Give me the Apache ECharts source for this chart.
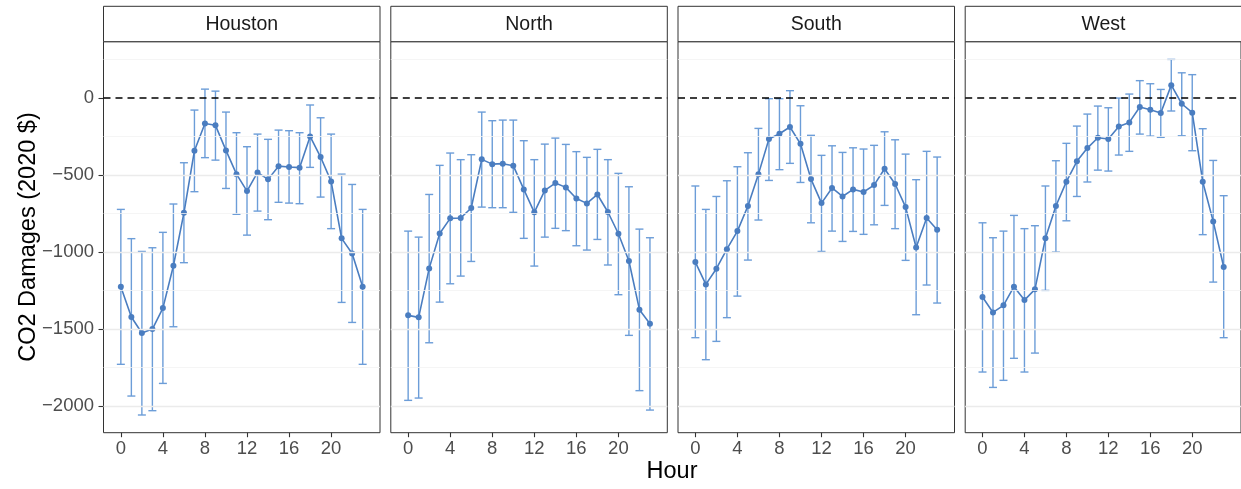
<!DOCTYPE html>
<html>
<head>
<meta charset="utf-8">
<script src="https://cdn.jsdelivr.net/npm/echarts@6/dist/echarts.min.js"></script>
<style>
html,body{margin:0;padding:0;background:#fff;}
#chart{width:1241px;height:489px;}
</style>
</head>
<body>
<div id="chart"></div>
<script>
// ---------------- DATA ----------------
const hours = [0,1,2,3,4,5,6,7,8,9,10,11,12,13,14,15,16,17,18,19,20,21,22,23];
const regions = ['Houston','North','South','West'];

const houstonMean  = [-1225,-1422,-1526,-1500,-1364,-1089,-745,-342,-165,-177,-340,-494,-604,-483,-528,-442,-448,-452,-249,-383,-541,-911,-1009,-1225];
const houstonLower = [-1729,-1935,-2058,-2030,-1853,-1485,-1069,-608,-387,-403,-587,-755,-890,-734,-790,-677,-682,-686,-450,-643,-848,-1327,-1457,-1729];
const houstonUpper = [-723,-913,-996,-972,-872,-688,-420,-78,58,45,-91,-225,-316,-234,-268,-208,-212,-225,-45,-128,-234,-494,-561,-723];

const northMean  = [-1411,-1424,-1106,-879,-781,-779,-714,-398,-429,-426,-439,-593,-742,-600,-552,-580,-652,-684,-626,-740,-881,-1058,-1374,-1465];
const northLower = [-1963,-1948,-1589,-1325,-1206,-1156,-1061,-708,-712,-712,-742,-911,-1091,-903,-846,-861,-959,-987,-918,-1084,-1277,-1541,-1900,-2026];
const northUpper = [-864,-903,-626,-437,-357,-400,-368,-91,-147,-143,-143,-277,-400,-299,-260,-301,-348,-385,-333,-400,-489,-576,-851,-907];

const southMean  = [-1065,-1210,-1108,-981,-864,-701,-494,-266,-232,-188,-297,-526,-682,-584,-639,-593,-610,-565,-459,-558,-708,-970,-779,-855];
const southLower = [-1556,-1699,-1580,-1426,-1286,-1052,-792,-535,-465,-424,-548,-810,-996,-864,-931,-866,-885,-823,-697,-848,-1054,-1407,-1214,-1331];
const southUpper = [-571,-723,-639,-537,-446,-355,-197,-4,-4,48,-50,-242,-372,-310,-353,-323,-331,-307,-219,-271,-364,-530,-346,-383];

const westMean  = [-1292,-1392,-1346,-1225,-1312,-1242,-911,-701,-543,-411,-325,-258,-266,-184,-158,-58,-76,-97,84,-37,-95,-543,-801,-1097];
const westLower = [-1779,-1879,-1833,-1690,-1779,-1656,-1249,-1000,-797,-639,-545,-468,-474,-370,-346,-234,-247,-255,-84,-245,-342,-887,-1195,-1556];
const westUpper = [-810,-907,-864,-762,-848,-829,-571,-407,-294,-182,-104,-52,-63,0,26,113,93,56,251,164,152,-199,-405,-634];

const yTickValues = [-2000,-1500,-1000,-500,0];
const xTickValues = [0,4,8,12,16,20];
const majorGridValues = [-2000,-1500,-1000,-500];
const minorGridValues = [-1750,-1250,-750,-250,250];
const yTitle = 'CO2 Damages (2020 $)';
const xTitle = 'Hour';

// ---------------- LAYOUT ----------------
const seriesSets = [
  [houstonMean, houstonLower, houstonUpper],
  [northMean, northLower, northUpper],
  [southMean, southLower, southUpper],
  [westMean, westLower, westUpper]
];
const panelLefts = [103.5, 390.8, 678, 965.2];
const panelW = 276.5;
const stripTop = 6.3, panelTop = 41.7, panelBottom = 432.7;
const FONT = '"Liberation Sans", Arial, Helvetica, sans-serif';
const lineColor = '#4a7dc0';
const errColor = '#6c9dd8';

const fmt = v => v < 0 ? '\u2212' + Math.abs(v) : String(v);

const grids = [], xAxes = [], yAxes = [], series = [], graphics = [];
regions.forEach((name, i) => {
  grids.push({
    left: panelLefts[i], top: panelTop, width: panelW, height: panelBottom - panelTop,
    show: true, borderColor: '#333333', borderWidth: 1, backgroundColor: '#fff'
  });
  xAxes.push({
    type: 'value', gridIndex: i, min: -1.65, max: 24.65, position: 'bottom',
    axisLine: {show: false, onZero: false},
    splitLine: {show: false},
    axisTick: {show: true, inside: false, customValues: xTickValues, length: 4.5, lineStyle: {color: '#333333', width: 1.1}},
    axisLabel: {show: true, customValues: xTickValues, color: '#4d4d4d', fontSize: 18.5, fontFamily: FONT, margin: 7}
  });
  yAxes.push({
    type: 'value', gridIndex: i, min: -2173, max: 366, position: 'left',
    axisLine: {show: false, onZero: false},
    splitLine: {show: false},
    axisTick: {show: i === 0, inside: false, customValues: yTickValues, length: 5, lineStyle: {color: '#333333', width: 1.1}},
    axisLabel: {show: i === 0, customValues: yTickValues, formatter: fmt, color: '#4d4d4d', fontSize: 18.5, fontFamily: FONT, margin: 9.5}
  });
  const [mean, lower, upper] = seriesSets[i];
  // grid lines
  series.push({
    type: 'line', xAxisIndex: i, yAxisIndex: i, data: [], z: 1, silent: true,
    markLine: {
      silent: true, symbol: 'none', animation: false, label: {show: false},
      data: majorGridValues.map(v => ({yAxis: v, lineStyle: {color: '#ebebeb', width: 1.3, type: 'solid'}}))
        .concat(minorGridValues.map(v => ({yAxis: v, lineStyle: {color: '#f2f2f2', width: 0.8, type: 'solid'}})))
    }
  });
  // dashed zero line
  series.push({
    type: 'line', xAxisIndex: i, yAxisIndex: i, data: [], z: 2, silent: true,
    markLine: {
      silent: true, symbol: 'none', animation: false, label: {show: false},
      data: [{yAxis: 0, lineStyle: {color: '#000', width: 1.5, type: [7, 5]}}]
    }
  });
  // error bars
  series.push({
    type: 'custom', xAxisIndex: i, yAxisIndex: i, z: 3, silent: true,
    data: hours.map((h, k) => [h, lower[k], upper[k]]),
    encode: {x: 0, y: [1, 2]},
    renderItem: (params, api) => {
      const x = api.value(0);
      const pLo = api.coord([x, api.value(1)]);
      const pHi = api.coord([x, api.value(2)]);
      const hw = 4;
      const st = {stroke: errColor, lineWidth: 1.4, fill: null};
      return {
        type: 'group',
        children: [
          {type: 'line', shape: {x1: pLo[0], y1: pLo[1], x2: pHi[0], y2: pHi[1]}, style: st},
          {type: 'line', shape: {x1: pLo[0] - hw, y1: pLo[1], x2: pLo[0] + hw, y2: pLo[1]}, style: st},
          {type: 'line', shape: {x1: pHi[0] - hw, y1: pHi[1], x2: pHi[0] + hw, y2: pHi[1]}, style: st}
        ]
      };
    }
  });
  // mean line + points
  series.push({
    type: 'line', xAxisIndex: i, yAxisIndex: i, z: 4, silent: true,
    data: hours.map((h, k) => [h, mean[k]]),
    symbol: 'circle', symbolSize: 6, showSymbol: true,
    lineStyle: {color: lineColor, width: 1.6},
    itemStyle: {color: lineColor, borderWidth: 0}
  });
  // strip
  graphics.push({
    type: 'rect', silent: true,
    shape: {x: panelLefts[i], y: stripTop, width: panelW, height: panelTop - stripTop},
    style: {fill: '#fff', stroke: '#333333', lineWidth: 1}
  });
  graphics.push({
    type: 'text', silent: true,
    x: panelLefts[i] + panelW / 2, y: (stripTop + panelTop) / 2 + 0.5,
    style: {text: name, font: '19.5px ' + FONT, fill: '#1a1a1a', align: 'center', verticalAlign: 'middle'}
  });
});

graphics.push({
  type: 'text', silent: true, x: 672, y: 472,
  style: {text: xTitle, font: '23.5px ' + FONT, fill: '#000', align: 'center', verticalAlign: 'middle'}
});
graphics.push({
  type: 'text', silent: true, x: 29, y: 237, rotation: Math.PI / 2,
  style: {text: yTitle, font: '23.5px ' + FONT, fill: '#000', align: 'center', verticalAlign: 'middle'}
});

const chart = echarts.init(document.getElementById('chart'), null, {renderer: 'canvas'});
chart.setOption({
  animation: false,
  backgroundColor: '#fff',
  grid: grids,
  xAxis: xAxes,
  yAxis: yAxes,
  series: series,
  graphic: graphics
});
</script>
</body>
</html>
